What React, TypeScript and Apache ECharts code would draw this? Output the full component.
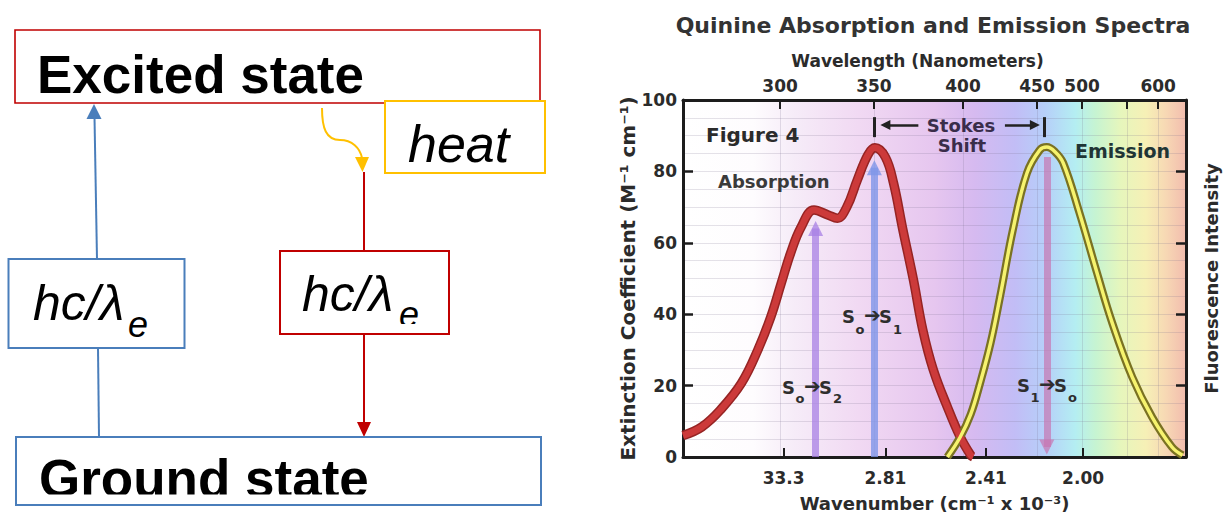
import React, { useEffect, useRef } from "react";
import * as echarts from "echarts";

// ---- data ----
// x = wavenumber (10^3 cm^-1, drawn right-to-left), y = extinction coefficient / intensity
const absorption: [number, number][] = [
  [37.3, 6], [36.5, 8.4], [35.7, 13.2], [34.8, 20.7], [34.1, 30], [33.55, 39.2],
  [33.1, 48.7], [32.7, 57.1], [32.25, 64.4], [31.7, 69.2], [31.1, 67.8], [30.7, 66.9],
  [30.3, 70], [29.85, 77.6], [29.4, 84.6], [29.1, 86.6], [28.65, 84], [28.3, 76.7],
  [27.9, 63.6], [27.45, 49.6], [27.05, 35.6], [26.6, 24.4], [26.0, 14], [25.45, 5.6],
  [25.0, 0.5], [24.9, 0],
];
const emission: [number, number][] = [
  [26.0, 0], [25.45, 5.6], [25.0, 12], [24.6, 20.7], [24.15, 32], [23.75, 44.8],
  [23.2, 63.6], [22.6, 79.5], [22.05, 86], [21.75, 86.8], [21.4, 85.5], [21.05, 82.4],
  [20.35, 68.3], [19.6, 51.5], [18.95, 37.5], [18.1, 22.4], [17.25, 11.2], [16.4, 2.8],
  [15.95, 0.5],
];
// wavelength ticks of the top axis and where they sit on the wavenumber axis
const wavelengthTicks = [300, 350, 400, 450, 500, 550, 600];
const wavelengthTickPos = [33.15, 29.14, 25.33, 22.17, 20.24, 18.32, 16.99];
const wavelengthLabelled = [true, true, true, true, true, false, true];
// wavenumber tick labels of the bottom axis
const wavenumberTicks = [33.0, 28.65, 24.35, 20.2];
const wavenumberLabels = ["33.3", "2.81", "2.41", "2.00"];
// transition arrows: position (wavenumber), start and end value
const transitions = [
  { at: 31.63, from: 0, to: 64, color: "rgba(168,128,228,0.75)" },
  { at: 29.12, from: 0, to: 81, color: "rgba(128,150,232,0.8)" },
  { at: 21.75, from: 84, to: 2.8, color: "rgba(200,118,178,0.7)" },
];
const stokes = { left: 29.12, right: 21.84, leftHead: 28.65, rightHead: 22.26, leftTail: 27.24, rightTail: 23.54, level: 93, barLow: 89.6, barHigh: 95.2 };

const FR = '"DejaVu Sans", sans-serif';
const FL = '"Liberation Sans", Arial, sans-serif';

function txt(text: string, x: number, y: number, font: string, fill: string, align = "left", z = 10): any {
  return {
    type: "text", x, y, z,
    style: { text, font, fill, align, verticalAlign: "middle", textAlign: align, textVerticalAlign: "middle" },
  };
}

function transLabel(x: number, y: number, a: string, b: string, dy: number): any {
  const big = `bold 18px ${FR}`;
  const small = `bold 13px ${FR}`;
  const c = "#2e2e2e";
  return {
    type: "group", x, y, z: 10,
    children: [
      txt("S", 0, 0, big, c),
      txt(a, 13.5, dy, small, c),
      txt("➔", 22, -1, `bold 20px ${FR}`, c),
      txt("S", 37, 0, big, c),
      txt(b, 51, dy, small, c),
    ],
  };
}

export default function App() {
  const ref = useRef<HTMLDivElement>(null);
  useEffect(() => {
    document.body.style.margin = "0";
    const chart = echarts.init(ref.current!, null, { renderer: "svg" });

    const axisColor = "#1c1c1c";
    const labelStyle = { fontFamily: FR, fontWeight: "bold" as const, fontSize: 17, color: "#2b2b2b" };
    const gridLine = { show: true, lineStyle: { color: "rgba(120,110,140,0.2)", width: 1 } };

    const markData: any[] = transitions.map((t) => [
      { coord: [t.at, t.from], symbol: "none", lineStyle: { color: t.color, width: 7, type: "solid" } },
      { coord: [t.at, t.to], symbol: "triangle", symbolSize: 15 },
    ]);
    const dark = { color: "#222", width: 2.5, type: "solid" };
    markData.push(
      [{ coord: [stokes.left, stokes.barLow], symbol: "none", lineStyle: { ...dark, width: 3 } }, { coord: [stokes.left, stokes.barHigh], symbol: "none" }],
      [{ coord: [stokes.right, stokes.barLow], symbol: "none", lineStyle: { ...dark, width: 3 } }, { coord: [stokes.right, stokes.barHigh], symbol: "none" }],
      [{ coord: [stokes.leftTail, stokes.level], symbol: "none", lineStyle: dark }, { coord: [stokes.leftHead, stokes.level], symbol: "triangle", symbolSize: 10 }],
      [{ coord: [stokes.rightTail, stokes.level], symbol: "none", lineStyle: dark }, { coord: [stokes.rightHead, stokes.level], symbol: "triangle", symbolSize: 10 }],
    );

    const base = { type: "line", smooth: 0.4, symbol: "none", showSymbol: false, silent: true };

    const leftDiagram: any[] = [
      // excited state
      { type: "rect", z: 1, shape: { x: 15, y: 30, width: 525, height: 73 }, style: { fill: "#fff", stroke: "#c00000", lineWidth: 1.6 } },
      txt("Excited state", 37, 74.5, `bold 53px ${FL}`, "#000", "left", 2),
      // heat box
      { type: "rect", z: 3, shape: { x: 385, y: 101, width: 160, height: 72 }, style: { fill: "#fff", stroke: "#ffc000", lineWidth: 2 } },
      txt("heat", 408, 144, `italic 52px ${FL}`, "#000", "left", 4),
      // orange curved arrow
      { type: "bezierCurve", z: 3, shape: { x1: 322, y1: 108, cpx1: 322, cpy1: 128, cpx2: 326, cpy2: 140, x2: 340, y2: 140 }, style: { stroke: "#ffc000", lineWidth: 2, fill: "none" } },
      { type: "bezierCurve", z: 3, shape: { x1: 340, y1: 140, cpx1: 352, cpy1: 140, cpx2: 360, cpy2: 148, x2: 362, y2: 158 }, style: { stroke: "#ffc000", lineWidth: 2, fill: "none" } },
      { type: "polygon", z: 3, shape: { points: [[355, 157], [369, 157], [362.5, 172]] }, style: { fill: "#ffc000" } },
      // red path
      { type: "line", z: 2, shape: { x1: 364, y1: 172, x2: 364, y2: 251 }, style: { stroke: "#c00000", lineWidth: 2 } },
      { type: "rect", z: 3, shape: { x: 280, y: 251, width: 169, height: 83 }, style: { fill: "#fff", stroke: "none" } },
      txt("hc/λ", 302, 293.5, `italic 50px ${FL}`, "#000", "left", 4),
      txt("e", 399, 314, `italic 36px ${FL}`, "#000", "left", 4),
      { type: "rect", z: 5, shape: { x: 282, y: 324, width: 165, height: 9 }, style: { fill: "#fff", stroke: "none" } },
      { type: "rect", z: 6, shape: { x: 280, y: 251, width: 169, height: 83 }, style: { fill: "none", stroke: "#c00000", lineWidth: 2 } },
      { type: "line", z: 2, shape: { x1: 364, y1: 334, x2: 364, y2: 423 }, style: { stroke: "#c00000", lineWidth: 2 } },
      { type: "polygon", z: 3, shape: { points: [[357, 422], [371, 422], [364, 437]] }, style: { fill: "#c00000" } },
      // blue path
      { type: "line", z: 2, shape: { x1: 97, y1: 259, x2: 94.5, y2: 117 }, style: { stroke: "#4a7ebb", lineWidth: 2 } },
      { type: "polygon", z: 3, shape: { points: [[86.5, 119], [101.5, 119], [94, 104]] }, style: { fill: "#4a7ebb" } },
      { type: "rect", z: 3, shape: { x: 8.5, y: 259, width: 176, height: 89 }, style: { fill: "#fff", stroke: "#4a7ebb", lineWidth: 2 } },
      txt("hc/λ", 33, 302.5, `italic 50px ${FL}`, "#000", "left", 4),
      txt("e", 128, 324.5, `italic 36px ${FL}`, "#000", "left", 4),
      { type: "line", z: 2, shape: { x1: 98, y1: 348, x2: 99, y2: 437 }, style: { stroke: "#4a7ebb", lineWidth: 2 } },
      // ground state
      txt("Ground state", 39, 478.5, `bold 53px ${FL}`, "#000", "left", 4),
      { type: "rect", z: 5, shape: { x: 17, y: 494.5, width: 522, height: 9.5 }, style: { fill: "#fff", stroke: "none" } },
      { type: "rect", z: 6, shape: { x: 16, y: 437, width: 525, height: 68 }, style: { fill: "none", stroke: "#4a7ebb", lineWidth: 2 } },
    ];

    const annotations: any[] = [
      txt("Quinine Absorption and Emission Spectra", 933, 25, `bold 22px ${FR}`, "#333", "center"),
      txt("Figure 4", 706, 135, `bold 20px ${FR}`, "#2b2b2b"),
      txt("Absorption", 718, 181, `bold 18px ${FR}`, "#3a3a3a"),
      txt("Emission", 1075, 151, `bold 19px ${FR}`, "#1f3535"),
      txt("Stokes", 961, 125, `bold 18px ${FR}`, "#3a2d4a", "center"),
      txt("Shift", 962, 145, `bold 18px ${FR}`, "#3a2d4a", "center"),
      transLabel(842, 316, "o", "1", 13),
      transLabel(782, 387, "o", "2", 11),
      transLabel(1017, 385, "1", "o", 12),
    ];

    const bg = new echarts.graphic.LinearGradient(0, 0, 1, 0, [
      { offset: 0, color: "#ffffff" },
      { offset: 0.14, color: "#fefcfe" },
      { offset: 0.22, color: "#f6ecf8" },
      { offset: 0.35, color: "#f1d9f3" },
      { offset: 0.5, color: "#e6c6ef" },
      { offset: 0.58, color: "#d6baf0" },
      { offset: 0.66, color: "#c2bdf6" },
      { offset: 0.72, color: "#b6cff9" },
      { offset: 0.78, color: "#b4eef2" },
      { offset: 0.82, color: "#c6f4d2" },
      { offset: 0.87, color: "#e6f6bc" },
      { offset: 0.92, color: "#f6f0b6" },
      { offset: 0.96, color: "#f7d8b4" },
      { offset: 1, color: "#f2bcae" },
    ]);

    const topLabelPos = wavelengthTickPos.filter((_, i) => wavelengthLabelled[i]);

    chart.setOption({
      animation: false,
      backgroundColor: "#ffffff",
      grid: { left: 683, top: 100, width: 503, height: 357, show: true, borderWidth: 0, backgroundColor: bg },
      xAxis: [
        {
          type: "value", position: "bottom", min: 15.8, max: 37.3, inverse: true,
          axisLine: { show: true, onZero: false, lineStyle: { color: axisColor, width: 3 } },
          axisTick: { show: true, inside: true, length: 9, lineStyle: { color: axisColor, width: 2 }, customValues: wavenumberTicks },
          axisLabel: {
            ...labelStyle, margin: 12, customValues: wavenumberTicks,
            formatter: (v: number) => {
              const i = wavenumberTicks.findIndex((t) => Math.abs(t - v) < 1e-6);
              return i >= 0 ? wavenumberLabels[i] : "";
            },
          },
          splitLine: { show: false },
          name: "Wavenumber (cm⁻¹ x 10⁻³)", nameLocation: "middle", nameGap: 37,
          nameTextStyle: { fontFamily: FR, fontWeight: "bold", fontSize: 18, color: "#2b2b2b" },
        },
        {
          type: "value", position: "top", min: 15.8, max: 37.3, inverse: true,
          axisLine: { show: true, onZero: false, lineStyle: { color: axisColor, width: 3 } },
          axisTick: { show: true, inside: true, length: 9, lineStyle: { color: axisColor, width: 2 }, customValues: wavelengthTickPos },
          axisLabel: {
            ...labelStyle, margin: 6, customValues: topLabelPos,
            formatter: (v: number) => {
              const i = wavelengthTickPos.findIndex((t) => Math.abs(t - v) < 1e-6);
              return i >= 0 ? String(wavelengthTicks[i]) : "";
            },
          },
          splitLine: gridLine,
          name: "Wavelength (Nanometers)", nameLocation: "middle", nameGap: 31,
          nameTextStyle: { fontFamily: FR, fontWeight: "bold", fontSize: 17, color: "#2b2b2b", padding: [0, 34, 0, 0] },
        },
      ],
      yAxis: [
        {
          type: "value", position: "left", min: 0, max: 100, interval: 20,
          axisLine: { show: true, lineStyle: { color: axisColor, width: 3 } },
          axisTick: { show: true, inside: true, length: 10, lineStyle: { color: axisColor, width: 2.5 } },
          axisLabel: { ...labelStyle, margin: 6 },
          splitLine: gridLine,
          minorTick: { show: false, splitNumber: 4 },
          minorSplitLine: gridLine,
          name: "Extinction Coefficient (M⁻¹ cm⁻¹)", nameLocation: "middle", nameGap: 31, nameRotate: 90,
          nameTextStyle: { fontFamily: FR, fontWeight: "bold", fontSize: 20, color: "#2b2b2b" },
        },
        {
          type: "value", position: "right", min: 0, max: 100, interval: 20,
          axisLine: { show: true, lineStyle: { color: axisColor, width: 3 } },
          axisTick: { show: true, inside: true, length: 10, lineStyle: { color: axisColor, width: 2.5 } },
          axisLabel: { show: false },
          splitLine: { show: false },
          name: "Fluorescence Intensity", nameLocation: "middle", nameGap: 16, nameRotate: 90,
          nameTextStyle: { fontFamily: FR, fontWeight: "bold", fontSize: 18, color: "#2b2b2b" },
        },
      ],
      series: [
        {
          ...base, name: "Absorption outline", data: absorption, z: 6,
          lineStyle: { width: 9.5, color: "#962424" },
          markLine: {
            silent: true, animation: false, label: { show: false }, emphasis: { disabled: true },
            symbol: ["none", "triangle"], data: markData,
          },
        },
        { ...base, name: "Absorption", data: absorption, z: 7, lineStyle: { width: 6.5, color: "#cc3a3a" } },
        { ...base, name: "Emission outline", data: emission, z: 6, lineStyle: { width: 8, color: "#7a7222" } },
        { ...base, name: "Emission", data: emission, z: 7, lineStyle: { width: 3.5, color: "#f6f36e" } },
      ],
      graphic: { elements: [...leftDiagram, ...annotations] },
    });
    return () => chart.dispose();
  }, []);
  return <div ref={ref} style={{ position: "fixed", left: 0, top: 0, width: 1224, height: 517, background: "#fff" }} />;
}
